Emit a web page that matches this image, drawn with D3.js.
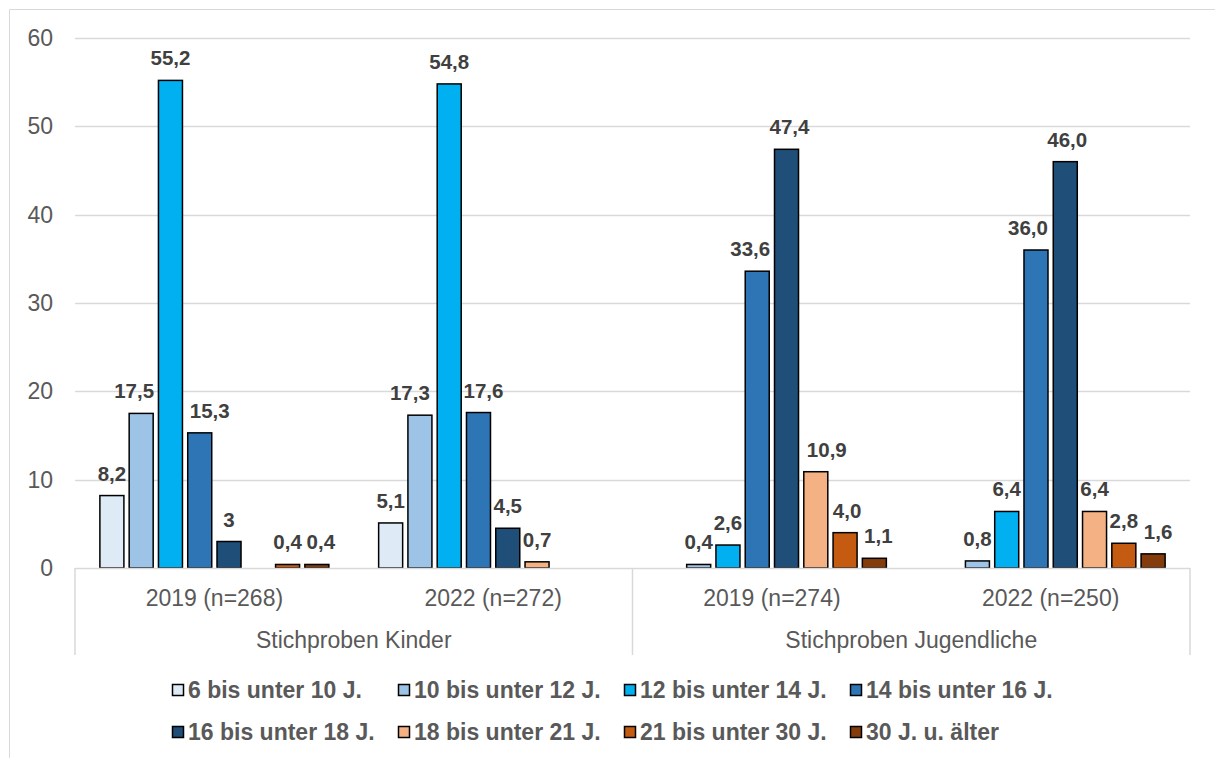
<!DOCTYPE html>
<html><head><meta charset="utf-8">
<script src="https://cdn.jsdelivr.net/npm/d3@7"></script>
<style>body{margin:0;background:#fff}svg{display:block}</style>
</head><body>
<svg id="chart" width="1215" height="758"></svg>
<script>
// ---- data ----
const categories = ["2019 (n=268)", "2022 (n=272)", "2019 (n=274)", "2022 (n=250)"];
const groups = ["Stichproben Kinder", "Stichproben Jugendliche"];
const groupOf = [0, 0, 1, 1];
const seriesNames = ["6 bis unter 10 J.", "10 bis unter 12 J.", "12 bis unter 14 J.", "14 bis unter 16 J.",
                     "16 bis unter 18 J.", "18 bis unter 21 J.", "21 bis unter 30 J.", "30 J. u. älter"];
const s6bis10  = [8.2, 5.1, null, null];
const s10bis12 = [17.5, 17.3, 0.4, 0.8];
const s12bis14 = [55.2, 54.8, 2.6, 6.4];
const s14bis16 = [15.3, 17.6, 33.6, 36.0];
const s16bis18 = [3, 4.5, 47.4, 46.0];
const s18bis21 = [null, 0.7, 10.9, 6.4];
const s21bis30 = [0.4, null, 4.0, 2.8];
const s30plus  = [0.4, null, 1.1, 1.6];
const seriesValues = [s6bis10, s10bis12, s12bis14, s14bis16, s16bis18, s18bis21, s21bis30, s30plus];
const l6bis10  = ["8,2", "5,1", null, null];
const l10bis12 = ["17,5", "17,3", "0,4", "0,8"];
const l12bis14 = ["55,2", "54,8", "2,6", "6,4"];
const l14bis16 = ["15,3", "17,6", "33,6", "36,0"];
const l16bis18 = ["3", "4,5", "47,4", "46,0"];
const l18bis21 = [null, "0,7", "10,9", "6,4"];
const l21bis30 = ["0,4", null, "4,0", "2,8"];
const l30plus  = ["0,4", null, "1,1", "1,6"];
const seriesLabels = [l6bis10, l10bis12, l12bis14, l14bis16, l16bis18, l18bis21, l21bis30, l30plus];
const yTicks = [0, 10, 20, 30, 40, 50, 60];

// ---- layout / style ----
const colors = ["#DEEBF7", "#9DC3E6", "#00B0F0", "#2E75B6", "#1F4E79", "#F4B183", "#C55A11", "#843C0C"];
// horizontal nudges of overlapping value labels (series,category -> px)
const labelNudge = { "1,0": -7, "3,0": 10, "7,0": 4, "1,1": -10, "3,1": 5, "3,2": -7, "4,2": 3,
                     "5,2": 11, "6,2": 2, "7,2": 4, "3,3": -8, "4,3": 2, "7,3": 5 };
const FONT = "'Liberation Sans', Arial, Helvetica, sans-serif";
const grid = "#d9d9d9", textGray = "#595959", labelGray = "#404040";
const L = 75, R = 1190, T = 38, B = 568;
const AXIS_FS = 23, LEG_FS = 23, VAL_FS = 20.5;

const svg = d3.select("#chart");
svg.append("rect").attr("width", 1215).attr("height", 758).attr("fill", "#fff");
svg.append("path").attr("d", "M9.5,758 V9.5 H1215").attr("fill", "none").attr("stroke", grid).attr("stroke-width", 1);

const y = d3.scaleLinear().domain([0, 60]).range([B, T]);
const x0 = d3.scaleBand().domain(d3.range(categories.length)).range([L, R]).padding(0);
const x1 = d3.scaleBand().domain(d3.range(seriesNames.length)).range([0, x0.bandwidth()])
  .paddingInner(0.18).paddingOuter(0.85);

// gridlines
svg.append("g").selectAll("line").data(yTicks.filter(t => t > 0)).join("line")
  .attr("x1", L).attr("x2", R).attr("y1", d => Math.round(y(d)) + 0.5).attr("y2", d => Math.round(y(d)) + 0.5)
  .attr("stroke", grid).attr("stroke-width", 1.5);

// y axis labels
svg.append("g").selectAll("text").data(yTicks).join("text")
  .attr("x", 53).attr("y", d => y(d)).attr("dy", "0.35em").attr("text-anchor", "end")
  .attr("font-family", FONT).attr("font-size", AXIS_FS).attr("fill", textGray).text(d => d);

// bars
const barData = [];
seriesValues.forEach((arr, s) => arr.forEach((v, c) => {
  if (v !== null) barData.push({ s, c, v, label: seriesLabels[s][c] });
}));
svg.append("g").selectAll("rect").data(barData).join("rect")
  .attr("x", d => x0(d.c) + x1(d.s)).attr("width", x1.bandwidth())
  .attr("y", d => y(d.v)).attr("height", d => B - y(d.v))
  .attr("fill", d => colors[d.s]).attr("stroke", "#000").attr("stroke-width", 1.5);

// x axis line & dividers
const xa = svg.append("g").attr("stroke", grid).attr("stroke-width", 1.5);
xa.append("line").attr("x1", L).attr("x2", R).attr("y1", B + 0.5).attr("y2", B + 0.5);
const dividers = [L, x0(2), R];
xa.selectAll("line.div").data(dividers).join("line").attr("class", "div")
  .attr("x1", d => d).attr("x2", d => d).attr("y1", B).attr("y2", 655);

// value labels
svg.append("g").selectAll("text").data(barData).join("text")
  .attr("x", d => x0(d.c) + x1(d.s) + x1.bandwidth() / 2 + (labelNudge[d.s + "," + d.c] || 0))
  .attr("y", d => y(d.v) - 15)
  .attr("text-anchor", "middle").attr("font-family", FONT).attr("font-weight", "bold")
  .attr("font-size", VAL_FS).attr("fill", labelGray).text(d => d.label);

// category labels
svg.append("g").selectAll("text").data(categories).join("text")
  .attr("x", (d, i) => x0(i) + x0.bandwidth() / 2).attr("y", 598).attr("dy", "0.35em")
  .attr("text-anchor", "middle").attr("font-family", FONT).attr("font-size", AXIS_FS).attr("fill", textGray).text(d => d);

// group labels
svg.append("g").selectAll("text").data(groups).join("text")
  .attr("x", (d, g) => {
    const idx = groupOf.map((v, i) => v === g ? i : -1).filter(i => i >= 0);
    return (x0(idx[0]) + x0(idx[idx.length - 1]) + x0.bandwidth()) / 2;
  }).attr("y", 640).attr("dy", "0.35em")
  .attr("text-anchor", "middle").attr("font-family", FONT).attr("font-size", AXIS_FS).attr("fill", textGray).text(d => d);

// legend
const items = svg.append("g").selectAll("g").data(seriesNames).join("g")
  .attr("transform", (d, i) => `translate(${172 + (i % 4) * 226},${i < 4 ? 690 : 732})`);
items.append("rect").attr("x", 0.5).attr("y", -5.5).attr("width", 11).attr("height", 11)
  .attr("fill", (d, i) => colors[i]).attr("stroke", "#000").attr("stroke-width", 1.5);
items.append("text").attr("x", 16).attr("dy", "0.35em").attr("font-family", FONT).attr("font-weight", "bold")
  .attr("font-size", LEG_FS).attr("fill", textGray).text(d => d);
</script>
</body></html>
